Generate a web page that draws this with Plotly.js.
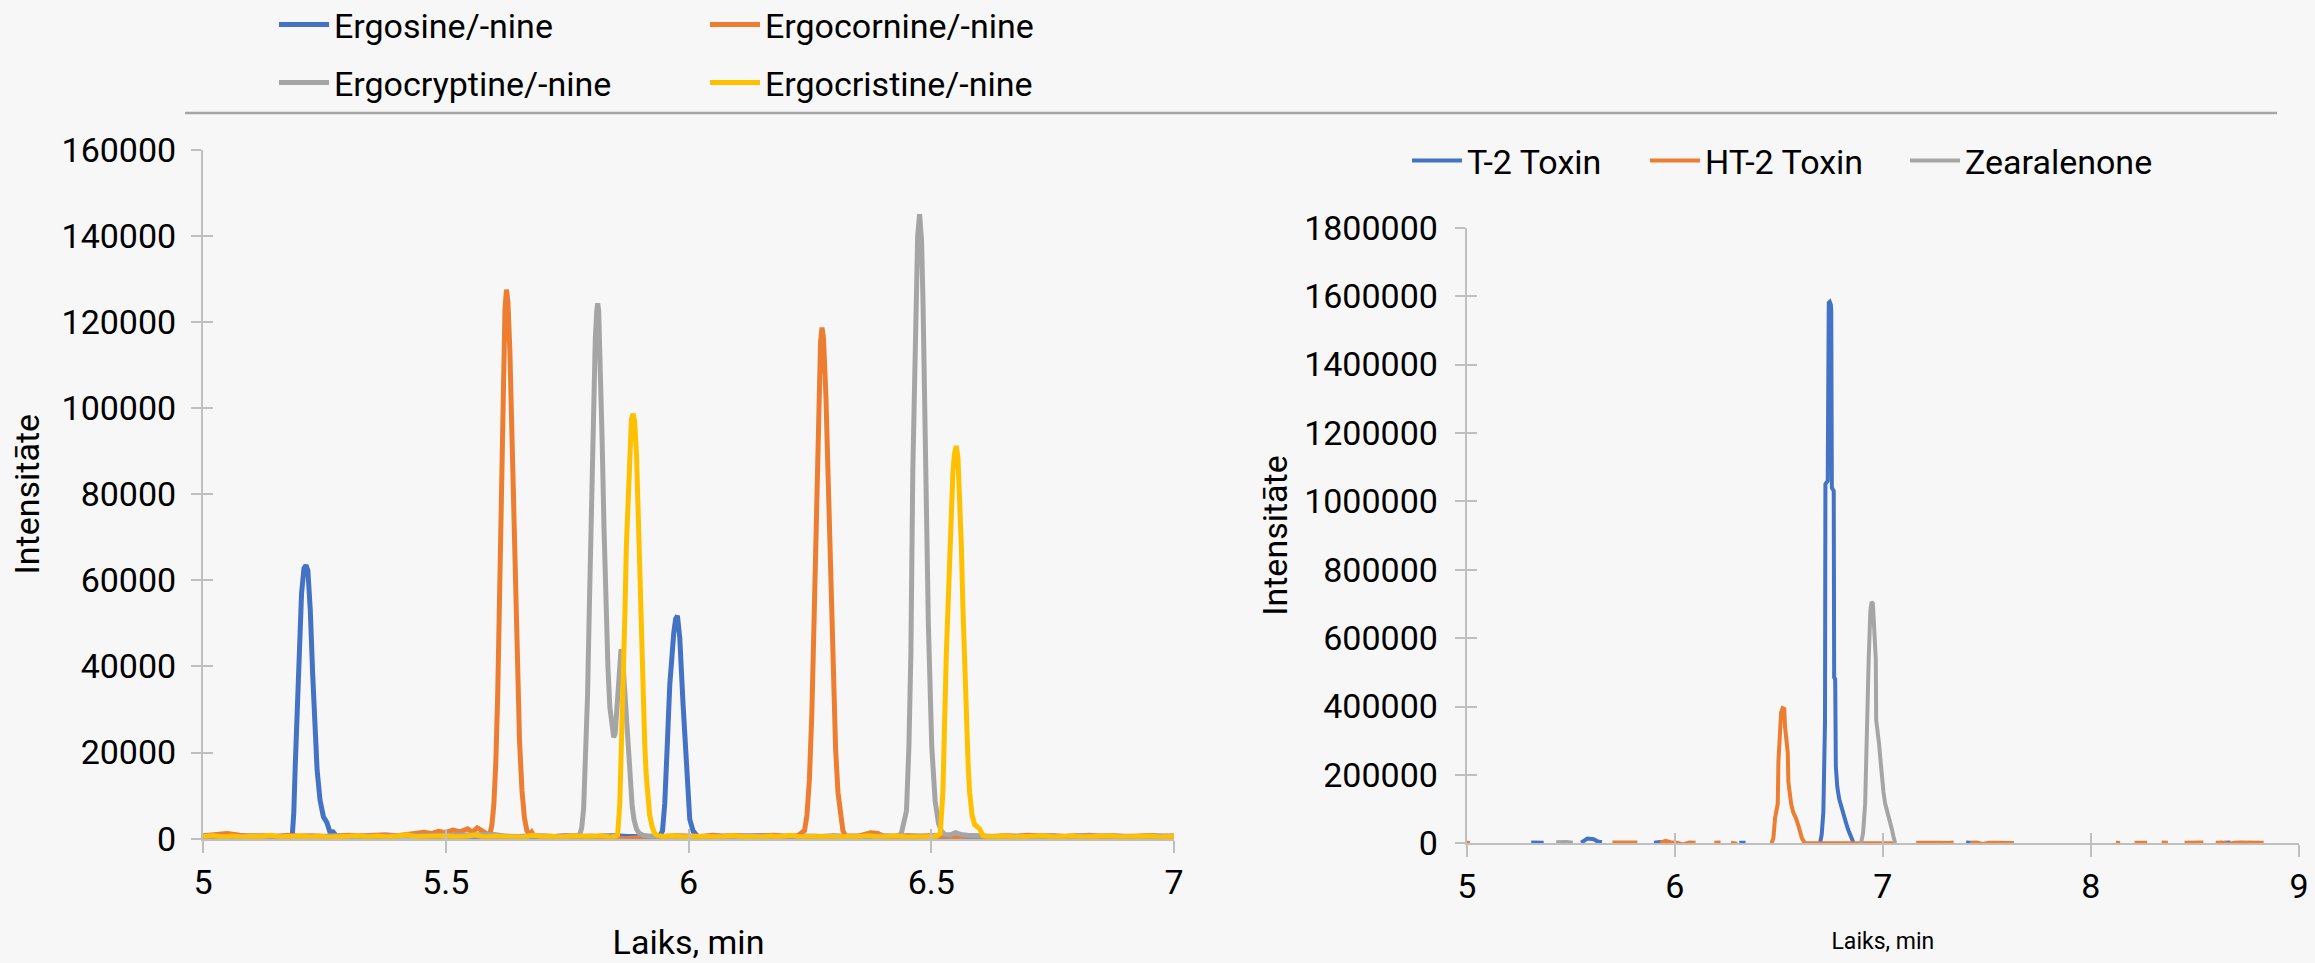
<!DOCTYPE html>
<html>
<head>
<meta charset="utf-8">
<script src="https://cdn.plot.ly/plotly-3.0.1.min.js"></script>
<style>html,body{margin:0;padding:0;background:#f7f7f7;}#chart{width:2315px;height:963px;}</style>
</head>
<body>
<div id="chart"></div>
<script>
// ---------- Left chart: ergot alkaloids ----------
const leftNames = ["Ergosine/-nine", "Ergocornine/-nine", "Ergocryptine/-nine", "Ergocristine/-nine"];

const ergosineT = [5.000,5.025,5.050,5.075,5.100,5.125,5.150,5.175,
  5.180,5.184,5.187,5.190,5.193,5.198,5.203,5.208,5.212,5.216,5.221,5.226,5.231,5.235,5.241,5.248,5.255,5.261,5.268,5.274,
  5.300,5.325,5.350,5.375,5.400,5.425,5.450,5.475,5.500,5.525,5.550,5.575,5.600,5.625,5.650,5.675,5.700,5.725,5.750,5.775,5.800,5.825,5.850,5.875,5.900,5.925,
  5.940,5.9464,5.9511,5.956,5.9614,5.9696,5.9735,5.9772,5.982,5.9888,5.9958,6.0026,6.0094,6.0197,
  6.050,6.075,6.100,6.125,6.150,6.175,6.200,6.225,6.250,6.275,6.300,6.325,6.350,6.375,6.400,6.425,6.450,6.475,6.500,6.525,6.550,6.575,6.600,6.625,6.650,6.675,6.700,6.725,6.750,6.775,6.800,6.825,6.850,6.875,6.900,6.925,6.950,6.975,7.000];
const ergosineI = [600,450,700,500,650,400,550,500,
  500,900,6000,17000,28000,44000,57000,62800,63500,62300,53000,38000,25000,16000,9000,5100,3800,1700,1600,700,
  500,650,450,600,500,700,550,400,600,500,650,450,550,500,600,450,550,500,650,500,450,600,700,500,550,450,
  500,1800,8200,21000,35700,47700,51000,51800,46700,31200,14600,4500,1800,400,
  500,600,450,550,700,500,600,450,550,500,650,500,450,600,550,500,600,450,550,500,650,500,450,600,550,500,600,450,550,500,650,500,450,600,550,500,600,450,550];

const ergocornineT = [5.000,5.025,5.050,5.075,5.100,5.125,5.150,5.175,5.200,5.225,5.250,5.275,5.300,5.325,5.350,5.375,5.400,5.425,
  5.440,5.455,5.470,5.485,5.500,5.515,5.530,5.545,5.555,5.565,5.575,5.583,5.588,
  5.591,5.595,5.599,5.603,5.607,5.611,5.615,5.619,5.622,5.625,5.628,5.632,5.637,5.642,5.647,5.652,5.657,5.662,5.667,5.673,5.677,5.681,
  5.700,5.725,5.750,5.775,5.800,5.825,5.850,5.856,5.870,5.885,5.900,5.906,5.925,5.950,5.975,6.000,6.025,6.050,6.075,6.100,6.125,6.150,6.175,6.200,6.225,
  6.239,6.244,6.249,6.254,6.259,6.264,6.269,6.272,6.275,6.278,6.283,6.288,6.293,6.298,6.303,6.308,6.313,6.318,6.323,
  6.350,6.375,6.390,6.400,6.425,6.450,6.475,6.500,6.525,6.550,6.575,6.600,6.625,6.650,6.675,6.700,6.725,6.750,6.775,6.800,6.825,6.850,6.875,6.900,6.925,6.950,6.975,7.000];
const ergocornineI = [700,900,1200,800,600,700,500,800,600,700,500,600,800,600,700,900,700,1000,
  1300,1500,1200,1700,1400,2000,1600,2300,1500,2500,1800,1400,900,
  1100,3100,7800,17300,33400,56700,84400,109900,122900,127500,124800,113500,90500,64100,40300,22500,11200,4900,1900,900,1500,700,
  600,500,700,500,600,500,400,100,0,50,0,300,600,500,700,600,500,800,600,700,500,600,800,600,700,
  1900,5500,13700,29000,52300,80600,105800,115400,118700,116300,102900,81500,57800,36700,20800,10600,4800,1900,700,
  600,1400,1200,700,500,600,500,700,600,500,700,600,500,700,600,800,600,700,500,600,800,600,700,500,600,700,500,600];

const ergocryptineT = [5.000,5.025,5.050,5.075,5.100,5.125,5.150,5.175,5.200,5.225,5.250,5.275,5.300,5.325,5.350,5.375,5.400,5.425,5.450,5.475,5.500,5.525,5.550,5.575,5.600,5.625,5.650,5.675,5.700,5.725,5.750,
  5.770,5.776,5.780,5.784,5.788,5.792,5.796,5.800,5.804,5.808,5.811,5.813,5.815,5.818,5.822,5.826,5.830,5.834,5.838,5.842,5.846,5.849,5.852,5.855,5.858,5.861,5.864,5.868,5.872,5.876,5.880,5.884,5.888,5.893,5.899,5.906,
  5.925,5.950,5.975,6.000,6.025,6.050,6.075,6.100,6.125,6.150,6.175,6.200,6.225,6.250,6.275,6.300,6.325,6.350,6.375,6.400,6.420,
  6.430,6.438,6.444,6.449,6.454,6.458,6.462,6.468,6.472,6.476,6.480,6.483,6.488,6.494,6.501,6.508,6.515,6.521,6.528,
  6.540,6.550,6.560,6.575,6.600,6.625,6.650,6.675,6.700,6.725,6.750,6.775,6.800,6.825,6.850,6.875,6.900,6.925,6.950,6.975,7.000];
const ergocryptineI = [500,600,400,550,500,450,600,500,450,550,500,600,450,500,550,450,600,500,650,700,600,900,700,800,1000,600,500,700,600,500,700,
  700,1000,2500,7000,17000,33000,55000,79000,100000,116000,122500,124300,122500,112000,93000,72000,54000,40000,30500,25500,23500,24500,30000,37000,42000,44000,42500,36000,27000,19000,12500,7500,4300,2200,1200,800,
  500,600,450,550,500,600,450,500,600,550,450,500,600,500,450,550,500,600,450,550,600,
  700,1000,3500,6500,21500,42700,85400,124800,140000,145000,139000,124800,85400,50000,21500,8700,3500,1800,1000,
  900,1400,1000,800,600,500,550,450,600,500,550,450,500,600,500,450,550,500,600,450,500];

const ergocristineT = [5.000,5.020,5.040,5.060,5.080,5.100,5.120,5.140,5.160,5.180,5.200,5.220,5.240,5.260,5.280,5.300,5.320,5.340,5.360,5.380,5.400,5.420,5.440,5.460,5.480,5.500,5.520,5.540,5.560,5.580,5.600,5.620,5.640,5.660,5.680,5.700,5.720,5.740,5.760,5.780,5.800,5.820,5.840,
  5.850,5.854,5.8585,5.862,5.8655,5.869,5.872,5.876,5.879,5.8825,5.886,5.889,5.893,5.896,5.900,5.903,5.906,5.910,5.913,5.917,5.920,5.925,5.930,5.936,
  5.950,5.970,5.990,6.010,6.030,6.050,6.070,6.090,6.110,6.130,6.150,6.170,6.190,6.210,6.230,6.250,6.270,6.290,6.310,6.330,6.350,6.370,6.390,6.410,6.430,6.450,6.470,6.490,6.505,
  6.512,6.5186,6.524,6.531,6.538,6.5447,6.548,6.5516,6.555,6.5584,6.562,6.5653,6.569,6.5722,6.576,6.579,6.584,6.5893,6.5996,6.6064,6.615,
  6.630,6.650,6.670,6.690,6.710,6.730,6.750,6.770,6.790,6.810,6.830,6.850,6.870,6.890,6.910,6.930,6.950,6.970,6.990,7.000];
const ergocristineI = [500,700,400,600,350,550,450,800,400,500,600,400,550,350,500,450,700,400,600,350,500,900,450,550,400,600,450,500,850,400,550,450,600,350,800,450,500,400,600,450,500,700,400,
  600,900,8200,20000,35700,52000,67900,82000,92600,97500,98700,97000,89000,75000,58700,44000,31200,21500,14600,9000,5500,2800,1300,700,
  500,700,400,550,450,600,400,750,450,500,400,600,450,800,400,500,450,650,400,550,450,700,400,500,600,400,550,450,500,
  600,1200,10800,42700,69400,85400,89500,91200,88500,80000,68000,53400,39000,26800,17000,10800,5500,3300,2300,700,500,
  450,600,400,550,450,700,400,500,600,400,550,450,650,400,500,450,600,400,550,500];

// ---------- Right chart: T-2, HT-2, Zearalenone (null = gap in the recorded trace) ----------
const rightNames = ["T-2 Toxin", "HT-2 Toxin", "Zearalenone"];

const t2T = [5.31,5.34,5.37,5.39, 5.47,5.49,5.51,5.53, 5.55,5.58,5.61,5.63,5.65,5.67, 5.90,5.93,5.96,5.98, 6.31,6.34,6.36,
  6.698,6.706,6.714,6.719,6.722,6.724,6.735,6.740,6.745,6.750,6.752,6.755,6.764,6.766,6.771,6.774,6.781,6.790,6.800,6.811,6.822,6.833,6.845,6.858,6.87,
  7.40,7.43,7.45, 8.64,8.67];
const t2I = [2000,3000,1500,null, 500,-8000,1000,null, 2000,14000,12000,5000,3000,null, 2000,3500,1000,null, 1500,1500,null,
  0,25000,90000,200000,355000,1050000,1060000,1580000,1583000,1575000,1560000,1040000,1030000,485000,480000,225000,165000,130000,105000,84000,62000,40000,20000,3000,null,
  2000,1000,null, 1500,2000];

const ht2T = [5.00,5.015,5.03, 5.70,5.73,5.76,5.79,5.82,5.84, 5.93,5.955,5.98,6.01,6.04,6.07,6.10,6.12, 6.19,6.22,6.24, 6.27,6.30,6.32,
  6.465,6.474,6.482,6.495,6.498,6.505,6.511,6.518,6.526,6.530,6.538,6.543,6.546,6.552,6.559,6.570,6.582,6.594,6.603,6.611,6.625,6.70,6.80,6.90,7.00,7.05,7.07,
  7.16,7.19,7.22,7.25,7.28,7.31,7.34,7.36, 7.42,7.45,7.48,7.51,7.54,7.57,7.60,7.63,7.65,
  8.12,8.14,8.16, 8.21,8.24,8.27,8.29, 8.34,8.37,8.39, 8.45,8.48,8.51,8.54,8.56, 8.60,8.63,8.66,8.69,8.72,8.75,8.78,8.81,8.83];
const ht2I = [2000,1000,null, 2000,1500,2500,1500,2000,null, 1500,7000,3000,1500,-3000,2000,1500,null, 1500,2000,null, 1500,-1000,null,
  0,15000,74000,116000,238000,300000,382000,395000,393000,340000,300000,265000,180000,150000,116000,89000,74000,52000,30000,15000,0,0,0,0,0,0,null,
  1500,2000,1500,2500,1500,1000,2000,null, 1500,2000,-2000,1500,1500,1500,2000,1000,null,
  1500,1000,null, 1500,2000,1500,null, 2000,1500,null, 1500,2500,1500,2000,null, 1500,2000,-2000,1500,2000,1500,2000,1500,1500];

const zeaT = [5.43,5.45,5.48,5.51,5.53,
  6.895,6.905,6.915,6.923,6.932,6.940,6.946,6.952,6.958,6.962,6.966,6.968,6.975,6.982,6.987,6.995,7.003,7.011,7.019,7.027,7.035,7.043,7.051,7.059];
const zeaI = [3000,4000,3500,2000,null,
  0,30000,116000,393000,540000,680000,706000,701000,600000,542000,540000,360000,330000,290000,254000,180000,150000,116000,100000,79000,60000,42000,20000,0];

// ---------- Axes ----------
const leftXTicks = [5, 5.5, 6, 6.5, 7];
const leftYTicks = [0,20000,40000,60000,80000,100000,120000,140000,160000];
const rightXTicks = [5, 6, 7, 8, 9];
const rightYTicks = [0,200000,400000,600000,800000,1000000,1200000,1400000,1600000,1800000];

const colors = ["#4472C4", "#ED7D31", "#A5A5A5", "#FFC000"];

// ---------- Layout helpers ----------
const W = 2315, H = 963;
const fx = v => v / W;
const fy = v => 1 - v / H;
const FONT = "Roboto, 'Open Sans', sans-serif";
const axisCol = "#bfbfbf";

// legend placement (item start x, row centre y) in pixels
const leftLegendPos = [[274, 25], [705, 25], [274, 83], [705, 83]];
const rightLegendPos = [[1407, 161], [1645, 161], [1905, 161]];

const leftSeries = [[ergosineT, ergosineI],[ergocornineT, ergocornineI],[ergocryptineT, ergocryptineI],[ergocristineT, ergocristineI]];
const rightSeries = [[t2T, t2I],[ht2T, ht2I],[zeaT, zeaI]];
const traces = [];
const legendIds = ["legend","legend2","legend3","legend4","legend5","legend6","legend7"];
leftSeries.forEach((s, i) => {
  traces.push({type:"scatter", mode:"lines", name:leftNames[i], x:s[0], y:s[1],
    xaxis:"x", yaxis:"y", line:{color:colors[i], width:5}, legend: legendIds[i], hoverinfo:"skip"});
});
rightSeries.forEach((s, i) => {
  traces.push({type:"scatter", mode:"lines", name:rightNames[i], x:s[0], y:s[1],
    xaxis:"x2", yaxis:"y2", connectgaps:false, line:{color:colors[i], width:4}, legend: legendIds[4 + i], hoverinfo:"skip"});
});
// empty helper traces so the overlay axes (inner half of the crossing tick marks) are drawn
traces.push({type:"scatter", x:[], y:[], xaxis:"x3", yaxis:"y", showlegend:false, hoverinfo:"skip"});
traces.push({type:"scatter", x:[], y:[], xaxis:"x", yaxis:"y3", showlegend:false, hoverinfo:"skip"});
traces.push({type:"scatter", x:[], y:[], xaxis:"x4", yaxis:"y2", showlegend:false, hoverinfo:"skip"});
traces.push({type:"scatter", x:[], y:[], xaxis:"x2", yaxis:"y4", showlegend:false, hoverinfo:"skip"});

const baseAxis = {showgrid:false, zeroline:false, showline:true, linecolor:axisCol, linewidth:2,
  ticks:"outside", tickcolor:axisCol, tickwidth:2, automargin:false, fixedrange:true,
  tickfont:{family:FONT, size:34, color:"#000"}};
const innerAxis = {showgrid:false, zeroline:false, showline:false, ticks:"inside", ticklen:10,
  tickcolor:axisCol, tickwidth:2, showticklabels:false, automargin:false, fixedrange:true};

const layout = {
  width: W, height: H,
  margin: {l:0, r:0, t:0, b:0, autoexpand:false},
  paper_bgcolor: "#f7f7f7", plot_bgcolor: "#f7f7f7",
  font: {family: FONT, size: 34, color: "#000"},
  xaxis: Object.assign({}, baseAxis, {domain:[fx(203), fx(1174)], range:[5,7], anchor:"y",
    tickmode:"array", tickvals:leftXTicks, ticktext:leftXTicks.map(String), ticklen:12,
    title:{text:"Laiks, min", font:{family:FONT, size:34}, standoff:30}}),
  yaxis: Object.assign({}, baseAxis, {domain:[fy(838.7), fy(149.7)], range:[0,160000], anchor:"x",
    tickmode:"array", tickvals:leftYTicks, ticktext:leftYTicks.map(String), ticklen:10, ticklabelstandoff:8,
    title:{text:"Intensitāte", font:{family:FONT, size:34}, standoff:12}}),
  xaxis2: Object.assign({}, baseAxis, {domain:[fx(1466.7), fx(2299)], range:[5,9], anchor:"y2",
    tickmode:"array", tickvals:rightXTicks, ticktext:rightXTicks.map(String), ticklen:12,
    title:{text:"Laiks, min", font:{family:FONT, size:23}, standoff:28}}),
  yaxis2: Object.assign({}, baseAxis, {domain:[fy(843.3), fy(227.7)], range:[0,1800000], anchor:"x2",
    tickmode:"array", tickvals:rightYTicks, ticktext:rightYTicks.map(String), ticklen:10, ticklabelstandoff:10,
    title:{text:"Intensitāte", font:{family:FONT, size:34}, standoff:6}}),
  xaxis3: Object.assign({}, innerAxis, {overlaying:"x", anchor:"y", side:"bottom", range:[5,7], tickmode:"array", tickvals:leftXTicks}),
  yaxis3: Object.assign({}, innerAxis, {overlaying:"y", anchor:"x", side:"left", range:[0,160000], tickmode:"array", tickvals:leftYTicks}),
  xaxis4: Object.assign({}, innerAxis, {overlaying:"x2", anchor:"y2", side:"bottom", range:[5,9], tickmode:"array", tickvals:rightXTicks}),
  yaxis4: Object.assign({}, innerAxis, {overlaying:"y2", anchor:"x2", side:"left", range:[0,1800000], tickmode:"array", tickvals:rightYTicks}),
  showlegend: true,
  shapes: [{type:"line", xref:"paper", yref:"paper", x0:fx(185), x1:fx(2277), y0:fy(113), y1:fy(113),
            line:{color:"#a6a6a6", width:2.5}}]
};
const allLegendPos = leftLegendPos.concat(rightLegendPos);
allLegendPos.forEach((p, i) => {
  layout[legendIds[i]] = {orientation:"h", x:fx(p[0]), xanchor:"left", y:fy(p[1]), yanchor:"middle",
    bgcolor:"rgba(0,0,0,0)", borderwidth:0, font:{family:FONT, size:34}, itemwidth:50};
});

Plotly.newPlot("chart", traces, layout, {staticPlot:true, displayModeBar:false});
</script>
</body>
</html>
